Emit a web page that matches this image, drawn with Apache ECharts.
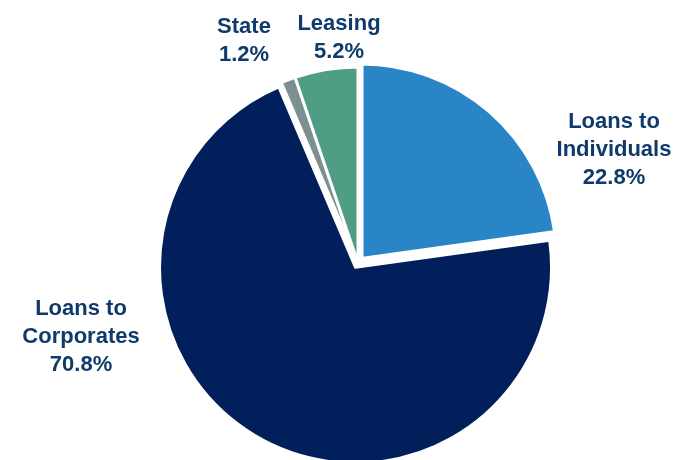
<!DOCTYPE html>
<html>
<head>
<meta charset="utf-8">
<script src="https://cdn.jsdelivr.net/npm/echarts@6/dist/echarts.min.js"></script>
<style>
  html, body { margin: 0; padding: 0; background: #ffffff; }
  #chart { width: 681px; height: 460px; }
</style>
</head>
<body>
<div id="chart"></div>
<script>
// Loan portfolio breakdown (share of total, %)
const categories = ['Loans to\nIndividuals', 'Loans to\nCorporates', 'State', 'Leasing'];
const shares = [22.8, 70.8, 1.2, 5.2];
const sliceColors = ['#2A85C7', '#001F5B', '#7C8F91', '#4E9D84'];
// Centre point (px) of each slice's text block
const labelAnchors = [[614, 150], [81, 337], [244, 41], [339, 38]];

const chart = echarts.init(document.getElementById('chart'), null, { renderer: 'canvas' });

const labelFont = 'bold 22px "Liberation Sans", Arial, sans-serif';

chart.setOption({
  animation: false,
  graphic: categories.map((name, i) => ({
    type: 'text',
    x: labelAnchors[i][0],
    y: labelAnchors[i][1],
    silent: true,
    style: {
      text: name + '\n' + shares[i].toFixed(1) + '%',
      font: labelFont,
      fill: '#0E3A6C',
      align: 'center',
      verticalAlign: 'middle',
      lineHeight: 28
    }
  })),
  series: [{
    type: 'pie',
    center: [358, 263],
    radius: 196,
    startAngle: 90,
    clockwise: true,
    selectedMode: 'multiple',
    selectedOffset: 5,
    itemStyle: { borderColor: '#ffffff', borderWidth: 3 },
    emphasis: { disabled: true },
    label: { show: false },
    labelLine: { show: false },
    data: categories.map((name, i) => ({
      name: name,
      value: shares[i],
      selected: i < 2,
      itemStyle: { color: sliceColors[i], borderWidth: i === 0 ? 4.5 : 3 }
    }))
  }]
});
</script>
</body>
</html>
